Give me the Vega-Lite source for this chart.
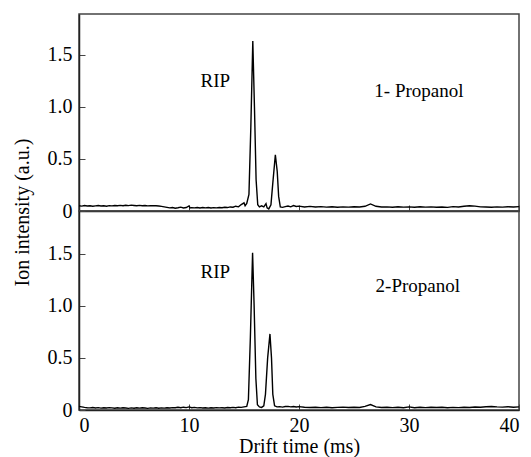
{
  "$schema": "https://vega.github.io/schema/vega-lite/v6.json",
  "padding": {"left": 11, "top": 13, "right": 8, "bottom": 5},
  "spacing": 0,
  "bounds": "flush",
  "config": {
    "font": "Liberation Serif",
    "view": {"stroke": "#444", "strokeWidth": 1.5},
    "axis": {
      "grid": false,
      "labelFont": "Liberation Serif",
      "titleFont": "Liberation Serif",
      "labelFontSize": 20,
      "titleFontSize": 20,
      "titleFontWeight": "normal",
      "labelColor": "#000",
      "titleColor": "#000",
      "domainColor": "#222",
      "domainWidth": 1.5,
      "tickColor": "#444",
      "tickSize": -6,
      "tickWidth": 1
    }
  },
  "datasets": {
    "a": [
      {"t":0,"v":0.05},{"t":0.25,"v":0.047},{"t":0.5,"v":0.052},{"t":0.75,"v":0.048},{"t":1,"v":0.05},{"t":1.25,"v":0.046},{"t":1.5,"v":0.049},{"t":1.75,"v":0.052},{"t":2,"v":0.048},{"t":2.25,"v":0.05},{"t":2.5,"v":0.046},{"t":2.75,"v":0.051},{"t":3,"v":0.049},{"t":3.25,"v":0.053},{"t":3.5,"v":0.05},{"t":3.75,"v":0.054},{"t":4,"v":0.051},{"t":4.25,"v":0.055},{"t":4.5,"v":0.052},{"t":4.75,"v":0.056},{"t":5,"v":0.053},{"t":5.25,"v":0.05},{"t":5.5,"v":0.054},{"t":5.75,"v":0.051},{"t":6,"v":0.053},{"t":6.25,"v":0.049},{"t":6.5,"v":0.052},{"t":6.75,"v":0.05},{"t":7,"v":0.051},{"t":7.25,"v":0.048},{"t":7.5,"v":0.044},{"t":7.75,"v":0.04},{"t":8,"v":0.035},{"t":8.25,"v":0.03},{"t":8.5,"v":0.034},{"t":8.75,"v":0.027},{"t":9,"v":0.031},{"t":9.25,"v":0.037},{"t":9.5,"v":0.029},{"t":9.75,"v":0.033},{"t":10,"v":0.048},{"t":10.1,"v":0.03},{"t":10.25,"v":0.032},{"t":10.5,"v":0.03},{"t":10.75,"v":0.034},{"t":11,"v":0.029},{"t":11.25,"v":0.033},{"t":11.5,"v":0.03},{"t":11.75,"v":0.034},{"t":12,"v":0.029},{"t":12.25,"v":0.032},{"t":12.5,"v":0.03},{"t":12.75,"v":0.033},{"t":13,"v":0.031},{"t":13.25,"v":0.036},{"t":13.5,"v":0.033},{"t":13.75,"v":0.039},{"t":14,"v":0.036},{"t":14.25,"v":0.046},{"t":14.5,"v":0.04},{"t":14.75,"v":0.062},{"t":15,"v":0.078},{"t":15.1,"v":0.05},{"t":15.25,"v":0.072},{"t":15.45,"v":0.16},{"t":15.62,"v":0.8},{"t":15.8,"v":1.63},{"t":15.95,"v":1.0},{"t":16.1,"v":0.3},{"t":16.25,"v":0.06},{"t":16.4,"v":0.04},{"t":16.6,"v":0.05},{"t":16.8,"v":0.04},{"t":17,"v":0.07},{"t":17.1,"v":0.03},{"t":17.25,"v":0.02},{"t":17.45,"v":0.06},{"t":17.62,"v":0.27},{"t":17.85,"v":0.54},{"t":18.02,"v":0.38},{"t":18.15,"v":0.14},{"t":18.3,"v":0.04},{"t":18.5,"v":0.035},{"t":18.75,"v":0.042},{"t":19,"v":0.048},{"t":19.25,"v":0.04},{"t":19.5,"v":0.052},{"t":19.75,"v":0.043},{"t":20,"v":0.047},{"t":20.5,"v":0.039},{"t":21,"v":0.044},{"t":21.5,"v":0.038},{"t":22,"v":0.042},{"t":22.5,"v":0.037},{"t":23,"v":0.041},{"t":23.5,"v":0.036},{"t":24,"v":0.04},{"t":24.5,"v":0.037},{"t":25,"v":0.041},{"t":25.5,"v":0.038},{"t":26,"v":0.045},{"t":26.5,"v":0.068},{"t":27,"v":0.045},{"t":27.5,"v":0.038},{"t":28,"v":0.04},{"t":28.5,"v":0.036},{"t":29,"v":0.041},{"t":29.5,"v":0.037},{"t":30,"v":0.04},{"t":30.5,"v":0.036},{"t":31,"v":0.041},{"t":31.5,"v":0.037},{"t":32,"v":0.04},{"t":32.5,"v":0.036},{"t":33,"v":0.039},{"t":33.5,"v":0.035},{"t":34,"v":0.042},{"t":34.5,"v":0.038},{"t":35,"v":0.046},{"t":35.5,"v":0.05},{"t":36,"v":0.047},{"t":36.5,"v":0.04},{"t":37,"v":0.038},{"t":37.5,"v":0.036},{"t":38,"v":0.04},{"t":38.5,"v":0.037},{"t":39,"v":0.041},{"t":39.5,"v":0.038},{"t":40,"v":0.042}
    ],
    "b": [
      {"t":0,"v":0.035},{"t":0.25,"v":0.03},{"t":0.5,"v":0.025},{"t":0.75,"v":0.022},{"t":1,"v":0.02},{"t":1.25,"v":0.024},{"t":1.5,"v":0.019},{"t":1.75,"v":0.023},{"t":2,"v":0.018},{"t":2.25,"v":0.022},{"t":2.5,"v":0.019},{"t":2.75,"v":0.023},{"t":3,"v":0.02},{"t":3.25,"v":0.017},{"t":3.5,"v":0.021},{"t":3.75,"v":0.018},{"t":4,"v":0.022},{"t":4.25,"v":0.019},{"t":4.5,"v":0.016},{"t":4.75,"v":0.02},{"t":5,"v":0.017},{"t":5.25,"v":0.021},{"t":5.5,"v":0.018},{"t":5.75,"v":0.022},{"t":6,"v":0.019},{"t":6.25,"v":0.016},{"t":6.5,"v":0.02},{"t":6.75,"v":0.018},{"t":7,"v":0.021},{"t":7.25,"v":0.017},{"t":7.5,"v":0.02},{"t":7.75,"v":0.018},{"t":8,"v":0.022},{"t":8.25,"v":0.019},{"t":8.5,"v":0.023},{"t":8.75,"v":0.021},{"t":9,"v":0.026},{"t":9.25,"v":0.022},{"t":9.5,"v":0.027},{"t":9.75,"v":0.023},{"t":10,"v":0.03},{"t":10.25,"v":0.022},{"t":10.5,"v":0.025},{"t":10.75,"v":0.02},{"t":11,"v":0.023},{"t":11.25,"v":0.019},{"t":11.5,"v":0.022},{"t":11.75,"v":0.018},{"t":12,"v":0.021},{"t":12.25,"v":0.019},{"t":12.5,"v":0.023},{"t":12.75,"v":0.02},{"t":13,"v":0.022},{"t":13.25,"v":0.019},{"t":13.5,"v":0.024},{"t":13.75,"v":0.021},{"t":14,"v":0.025},{"t":14.25,"v":0.022},{"t":14.5,"v":0.027},{"t":14.75,"v":0.025},{"t":15,"v":0.03},{"t":15.25,"v":0.035},{"t":15.4,"v":0.1},{"t":15.58,"v":0.7},{"t":15.78,"v":1.51},{"t":15.92,"v":1.0},{"t":16.08,"v":0.3},{"t":16.22,"v":0.05},{"t":16.4,"v":0.03},{"t":16.6,"v":0.025},{"t":16.8,"v":0.04},{"t":16.95,"v":0.15},{"t":17.15,"v":0.5},{"t":17.36,"v":0.73},{"t":17.5,"v":0.5},{"t":17.62,"v":0.15},{"t":17.78,"v":0.04},{"t":18,"v":0.03},{"t":18.25,"v":0.032},{"t":18.5,"v":0.028},{"t":18.75,"v":0.033},{"t":19,"v":0.035},{"t":19.25,"v":0.03},{"t":19.5,"v":0.034},{"t":19.75,"v":0.029},{"t":20,"v":0.032},{"t":20.5,"v":0.026},{"t":21,"v":0.024},{"t":21.5,"v":0.027},{"t":22,"v":0.023},{"t":22.5,"v":0.026},{"t":23,"v":0.022},{"t":23.5,"v":0.025},{"t":24,"v":0.028},{"t":24.5,"v":0.024},{"t":25,"v":0.027},{"t":25.5,"v":0.024},{"t":26,"v":0.035},{"t":26.5,"v":0.052},{"t":27,"v":0.03},{"t":27.5,"v":0.024},{"t":28,"v":0.027},{"t":28.5,"v":0.023},{"t":29,"v":0.026},{"t":29.5,"v":0.022},{"t":30,"v":0.03},{"t":30.5,"v":0.022},{"t":31,"v":0.026},{"t":31.5,"v":0.023},{"t":32,"v":0.027},{"t":32.5,"v":0.024},{"t":33,"v":0.026},{"t":33.5,"v":0.022},{"t":34,"v":0.025},{"t":34.5,"v":0.023},{"t":35,"v":0.027},{"t":35.5,"v":0.024},{"t":36,"v":0.029},{"t":36.5,"v":0.026},{"t":37,"v":0.031},{"t":37.5,"v":0.034},{"t":38,"v":0.03},{"t":38.5,"v":0.028},{"t":39,"v":0.031},{"t":39.5,"v":0.027},{"t":40,"v":0.03}
    ]
  },
  "vconcat": [
    {
      "width": 440,
      "height": 197,
      "layer": [
        {
          "data": {"name": "a"},
          "mark": {"type": "line", "color": "#000", "strokeWidth": 1.4},
          "encoding": {
            "x": {"field": "t", "type": "quantitative", "scale": {"domain": [0, 40], "nice": false},
                  "axis": {"values": [0, 10, 20, 30, 40], "labels": false, "title": null}},
            "y": {"field": "v", "type": "quantitative", "scale": {"domain": [0, 1.89], "nice": false},
                  "axis": {"values": [0, 0.5, 1, 1.5], "labelExpr": "datum.value == 0 ? '0' : format(datum.value, '.1f')",
                           "title": "Ion intensity (a.u.)", "titleY": 198, "labelPadding": 13, "titlePadding": 15}}
          }
        },
        {
          "data": {"values": [{"t": 12.4, "v": 1.25, "label": "RIP"}, {"t": 30.9, "v": 1.15, "label": "1- Propanol"}]},
          "mark": {"type": "text", "font": "Liberation Serif", "fontSize": 19, "color": "#000", "baseline": "middle"},
          "encoding": {
            "x": {"field": "t", "type": "quantitative"},
            "y": {"field": "v", "type": "quantitative"},
            "text": {"field": "label"}
          }
        }
      ]
    },
    {
      "width": 440,
      "height": 199,
      "layer": [
        {
          "data": {"name": "b"},
          "mark": {"type": "line", "color": "#000", "strokeWidth": 1.4},
          "encoding": {
            "x": {"field": "t", "type": "quantitative", "scale": {"domain": [0, 40], "nice": false},
                  "axis": {"values": [0, 10, 20, 30, 40], "format": "d", "title": "Drift time (ms)", "labelPadding": 11, "titlePadding": 1}},
            "y": {"field": "v", "type": "quantitative", "scale": {"domain": [0, 1.91], "nice": false},
                  "axis": {"values": [0, 0.5, 1, 1.5], "labelExpr": "datum.value == 0 ? '0' : format(datum.value, '.1f')",
                           "title": null, "labelPadding": 13}}
          }
        },
        {
          "data": {"values": [{"t": 12.4, "v": 1.32, "label": "RIP"}, {"t": 30.8, "v": 1.19, "label": "2-Propanol"}]},
          "mark": {"type": "text", "font": "Liberation Serif", "fontSize": 19, "color": "#000", "baseline": "middle"},
          "encoding": {
            "x": {"field": "t", "type": "quantitative"},
            "y": {"field": "v", "type": "quantitative"},
            "text": {"field": "label"}
          }
        }
      ]
    }
  ]
}
